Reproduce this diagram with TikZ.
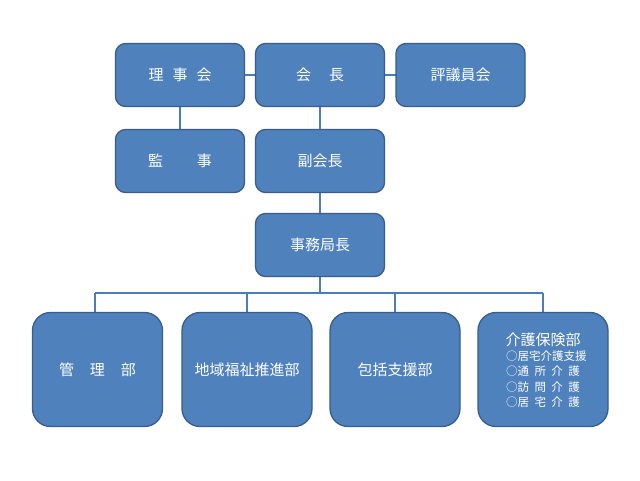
\documentclass[tikz,border=0pt]{standalone}
\usepackage{fontspec}
\setmainfont{Noto Sans CJK JP}
\definecolor{boxfill}{HTML}{4F81BD}
\definecolor{boxline}{HTML}{385D8A}
\definecolor{conn}{HTML}{4A7EBB}
\tikzset{
  topbox/.style={draw=boxline, fill=boxfill, line width=1.3pt, rounded corners=10pt,
    minimum width=129pt, minimum height=63pt, inner sep=0pt, text=white,
    font=\fontsize{15}{18}\selectfont},
  deptbox/.style={draw=boxline, fill=boxfill, line width=1.3pt, rounded corners=18pt,
    minimum width=130pt, minimum height=114pt, inner sep=0pt, text=white,
    font=\fontsize{15}{18}\selectfont},
  link/.style={draw=conn, line width=1.5pt}
}
\newcommand{\subline}{\fontsize{11.5}{13}\selectfont}
\begin{document}
\begin{tikzpicture}[x=1pt,y=-1pt]
\useasboundingbox[fill=white] (0,0) rectangle (640,480);
% bus coordinates
\coordinate (busL) at (95,293);
\coordinate (busR) at (543,293);
% box centres
\coordinate (rijiC) at (180,75);
\coordinate (kaichoC) at (320,75);
\coordinate (hyogiC) at (460.5,75);
\coordinate (kanjiC) at (180,161);
\coordinate (fukuC) at (320,161);
\coordinate (jimuC) at (320,245);
\coordinate (kanriC) at (97.5,369.5);
\coordinate (chiikiC) at (247,369.5);
\coordinate (hokatsuC) at (395,369.5);
\coordinate (kaigoC) at (543,369.5);
% connectors (drawn first, under the boxes)
\draw[link] (rijiC) -- (kaichoC);
\draw[link] (kaichoC) -- (hyogiC);
\draw[link] (rijiC) -- (kanjiC);
\draw[link] (kaichoC) -- (fukuC);
\draw[link] (fukuC) -- (jimuC);
\draw[link] (jimuC) -- (jimuC |- busL);
\draw[link] (busL) -- (busR);
\draw[link] (busL) -- (busL |- kanriC);
\draw[link] (chiikiC |- busL) -- (chiikiC);
\draw[link] (hokatsuC |- busL) -- (hokatsuC);
\draw[link] (busR) -- (kaigoC);
% top row
\node[topbox] (riji) at (rijiC) {理\hspace{9pt}事\hspace{9pt}会};
\node[topbox] (kaicho) at (kaichoC) {会\hspace{18pt}長};
\node[topbox] (hyogi) at (hyogiC) {評議員会};
% second row
\node[topbox] (kanji) at (kanjiC) {監\hspace{34pt}事};
\node[topbox] (fuku) at (fukuC) {副会長};
% third
\node[topbox] (jimu) at (jimuC) {事務局長};
% departments
\node[deptbox] (kanri) at (kanriC) {管\hspace{16pt}理\hspace{16pt}部};
\node[deptbox] (chiiki) at (chiikiC) {地域福祉推進部};
\node[deptbox] (hokatsu) at (hokatsuC) {包括支援部};
\node[deptbox] (kaigo) at (kaigoC) {\raisebox{-3pt}[\height][\depth]{\begin{tabular}{@{}c@{}}
  \fontsize{15}{17}\selectfont 介護保険部\\[-3pt]
  \subline \makebox[74pt][s]{○居\hfill 宅\hfill 介\hfill 護\hfill 支\hfill 援}\\[-2.5pt]
  \subline \makebox[74pt][s]{○通\hfill 所\hfill 介\hfill 護}\\[-2.5pt]
  \subline \makebox[74pt][s]{○訪\hfill 問\hfill 介\hfill 護}\\[-2.5pt]
  \subline \makebox[74pt][s]{○居\hfill 宅\hfill 介\hfill 護}
\end{tabular}}};
\end{tikzpicture}
\end{document}
